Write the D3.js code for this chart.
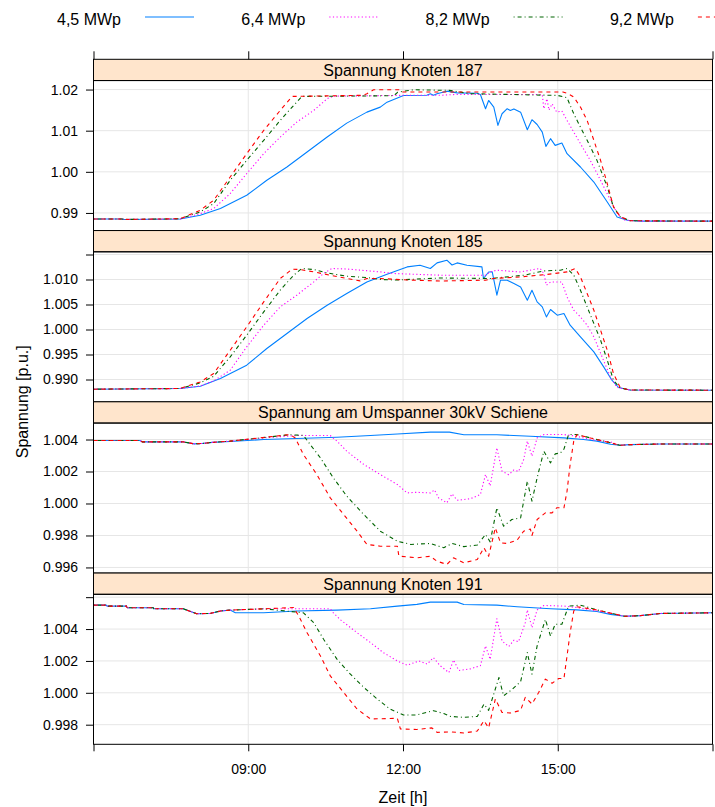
<!DOCTYPE html>
<html><head><meta charset="utf-8">
<script src="https://cdn.jsdelivr.net/npm/d3@7"></script>
<style>
body{margin:0;background:#fff}
text{font-family:"Liberation Sans",Arial,Helvetica,sans-serif;fill:#000}
</style>
</head><body>
<svg id="chart" width="715" height="807"></svg>
<script>
// ---------------- DATA ----------------
const seriesNames = ["4,5 MWp", "6,4 MWp", "8,2 MWp", "9,2 MWp"];
const panelTitles = ["Spannung Knoten 187", "Spannung Knoten 185", "Spannung am Umspanner 30kV Schiene", "Spannung Knoten 191"];
const xTicks = [6, 9, 12, 15, 18];
const xTickLabels = ["", "09:00", "12:00", "15:00", ""];
const xTitle = "Zeit [h]";
const yTitle = "Spannung [p.u.]";

// y ticks per panel (value, label)
const yTicks187 = [[0.99, "0.99"], [1.00, "1.00"], [1.01, "1.01"], [1.02, "1.02"]];
const yTicks185 = [[0.990, "0.990"], [0.995, "0.995"], [1.000, "1.000"], [1.005, "1.005"], [1.010, "1.010"], [1.015, ""]];
const yTicksUmsp = [[0.996, "0.996"], [0.998, "0.998"], [1.000, "1.000"], [1.002, "1.002"], [1.004, "1.004"]];
const yTicks191 = [[0.998, "0.998"], [1.000, "1.000"], [1.002, "1.002"], [1.004, "1.004"], [1.006, ""]];
const yLimits187 = [0.98572, 1.02219];
const yLimits185 = [0.98554, 1.01554];
const yLimitsUmsp = [0.99565, 1.00503];
const yLimits191 = [0.99677, 1.00618];

// time [h], voltage [p.u.]
const k187_45 = [[6,0.98852],[6.55,0.98852],[6.6,0.98842],[7.68,0.98852],[8.07,0.98944],[8.46,0.99107],[8.97,0.99430],[9.36,0.99794],[9.75,1.00117],[10.14,1.00481],[10.53,1.00845],[10.91,1.01184],[11.30,1.01451],[11.56,1.01573],[11.69,1.01694],[12.01,1.01857],[12.46,1.0186],[12.53,1.01898],[12.59,1.0186],[12.66,1.0190],[12.85,1.01961],[13.05,1.0192],[13.44,1.0191],[13.50,1.0188],[13.60,1.01534],[13.66,1.01735],[13.76,1.01573],[13.84,1.01129],[13.92,1.01412],[14.02,1.01534],[14.08,1.0149],[14.15,1.0153],[14.28,1.01451],[14.41,1.01024],[14.50,1.01267],[14.60,1.0115],[14.70,1.00966],[14.77,1.00619],[14.86,1.00806],[14.95,1.00643],[15.08,1.00699],[15.18,1.00442],[15.44,1.00117],[15.70,0.99752],[15.96,0.99267],[16.15,0.98903],[16.35,0.98823],[16.6,0.98800],[18,0.98800]];
const k187_64 = [[6,0.98852],[6.55,0.98852],[6.6,0.98842],[7.68,0.98855],[8.07,0.98985],[8.33,0.99107],[8.65,0.99471],[8.97,0.99956],[9.30,1.00442],[9.62,1.00845],[9.94,1.01209],[10.27,1.01493],[10.53,1.01777],[10.65,1.0184],[12.0,1.0186],[12.72,1.0186],[13.0,1.0188],[14.70,1.0188],[14.73,1.01534],[14.79,1.01777],[14.83,1.0150],[14.89,1.01655],[14.98,1.0145],[15.08,1.0148],[15.18,1.0125],[15.31,1.00966],[15.44,1.00684],[15.63,1.00279],[15.83,0.99794],[16.02,0.99308],[16.15,0.9900],[16.28,0.9883],[16.6,0.9880],[18,0.9880]];
const k187_82 = [[6,0.98852],[6.55,0.98852],[6.6,0.98842],[7.68,0.98858],[8.07,0.99024],[8.33,0.99228],[8.65,0.99794],[8.97,1.00279],[9.30,1.00765],[9.62,1.0125],[9.88,1.01614],[10.04,1.01833],[11.82,1.0185],[11.9,1.01937],[12.2,1.01995],[12.9,1.0198],[13.3,1.0190],[15.0,1.01857],[15.18,1.0180],[15.31,1.01412],[15.44,1.01087],[15.57,1.00765],[15.76,1.00279],[15.96,0.99631],[16.08,0.99146],[16.21,0.9891],[16.4,0.9881],[18,0.9880]];
const k187_92 = [[6,0.98852],[6.55,0.98852],[6.6,0.98842],[7.68,0.9886],[8.07,0.99066],[8.33,0.99308],[8.65,0.99874],[8.97,1.00442],[9.30,1.01007],[9.62,1.01493],[9.85,1.01833],[11.23,1.0186],[11.30,1.0190],[11.43,1.01995],[11.95,1.01995],[12.0,1.0194],[15.1,1.0194],[15.2,1.0190],[15.31,1.0182],[15.44,1.01573],[15.57,1.0125],[15.70,1.00765],[15.83,1.00279],[15.96,0.99713],[16.08,0.9915],[16.21,0.9891],[16.4,0.9881],[18,0.9880]];

const k185_45 = [[6,0.98806],[7.68,0.9882],[8.07,0.98866],[8.46,0.9902],[8.97,0.99286],[9.36,0.9962],[9.75,0.9992],[10.14,1.0022],[10.53,1.00486],[10.91,1.0072],[11.30,1.00952],[11.69,1.01106],[12.08,1.01252],[12.33,1.01286],[12.53,1.0122],[12.66,1.01332],[12.85,1.01386],[12.95,1.0129],[13.05,1.01332],[13.24,1.01286],[13.53,1.01252],[13.56,1.0102],[13.66,1.0115],[13.73,1.01152],[13.82,1.00686],[13.89,1.00986],[14.02,1.00986],[14.15,1.0092],[14.28,1.00852],[14.41,1.00586],[14.50,1.00786],[14.60,1.00552],[14.70,1.00452],[14.78,1.00252],[14.86,1.004],[14.99,1.00286],[15.12,1.0032],[15.24,1.00086],[15.44,0.99852],[15.70,0.99552],[15.89,0.99252],[16.05,0.98986],[16.18,0.9884],[16.4,0.9879],[18,0.98786]];
const k185_64 = [[6,0.98806],[7.68,0.9882],[8.07,0.9887],[8.33,0.98972],[8.65,0.99186],[8.97,0.99652],[9.30,1.00086],[9.62,1.00452],[9.94,1.00686],[10.27,1.00952],[10.46,1.0112],[10.62,1.0122],[10.91,1.0121],[11.56,1.01152],[11.82,1.0112],[12.72,1.01086],[13.6,1.01086],[13.69,1.0115],[13.82,1.01186],[14.28,1.0115],[14.53,1.0120],[14.66,1.0122],[14.73,1.0112],[14.78,1.00886],[14.86,1.0095],[15.08,1.0095],[15.18,1.00652],[15.31,1.00386],[15.44,1.00252],[15.57,1.00086],[15.70,0.99852],[15.86,0.99452],[16.02,0.99052],[16.15,0.9884],[16.4,0.9879],[18,0.98786]];
const k185_82 = [[6,0.98806],[7.68,0.9882],[8.07,0.98932],[8.33,0.99066],[8.65,0.99452],[8.97,0.99886],[9.30,1.00352],[9.62,1.00786],[9.88,1.01086],[10.04,1.0122],[10.27,1.0120],[10.53,1.01132],[10.91,1.01066],[11.30,1.0104],[11.56,1.0100],[11.88,1.0099],[12.72,1.0103],[13.7,1.0102],[14.35,1.01086],[14.73,1.01172],[15.05,1.01186],[15.18,1.0122],[15.31,1.0109],[15.44,1.00786],[15.57,1.00452],[15.70,1.0012],[15.83,0.99786],[15.96,0.99386],[16.08,0.98986],[16.21,0.9883],[16.4,0.9879],[18,0.98786]];
const k185_92 = [[6,0.98806],[7.68,0.9882],[8.07,0.98952],[8.33,0.9912],[8.65,0.99586],[8.97,1.00052],[9.30,1.00552],[9.62,1.0102],[9.85,1.01206],[10.0,1.0120],[10.27,1.01152],[10.59,1.01086],[10.91,1.0102],[11.17,1.00972],[11.30,1.0102],[11.56,1.0102],[12.08,1.0099],[12.72,1.0097],[13.6,1.00986],[13.75,1.0102],[14.28,1.01052],[14.78,1.0110],[15.18,1.01152],[15.34,1.0122],[15.44,1.0105],[15.57,1.0072],[15.70,1.00386],[15.83,0.99986],[15.96,0.99586],[16.08,0.9912],[16.21,0.9884],[16.4,0.9879],[18,0.98786]];

const umspMorning = [[6,1.00394],[6.9,1.00394],[6.95,1.00385],[7.75,1.00385],[7.95,1.00373],[8.1,1.00375],[8.3,1.00382]];
const umspEvening = [[16.2,1.00364],[16.4,1.00368],[17.0,1.00372],[18,1.00372]];
const umsp_45 = [[8.65,1.00388],[9.30,1.0040],[9.94,1.00406],[10.72,1.00414],[11.37,1.00425],[11.89,1.00435],[12.53,1.00446],[12.9,1.00446],[13.18,1.0043],[13.82,1.0043],[14.47,1.0042],[15.12,1.0041],[15.50,1.0040],[15.76,1.0039],[16.02,1.0037]];
const umsp_64 = [[8.65,1.0039],[9.30,1.0041],[9.94,1.00425],[10.59,1.00425],[10.72,1.0039],[10.91,1.00327],[11.24,1.00244],[11.56,1.00181],[11.89,1.00119],[12.08,1.00066],[12.27,1.0007],[12.53,1.00066],[12.61,1.00085],[12.69,1.00035],[12.85,1.00004],[12.95,1.0006],[13.05,1.0002],[13.31,1.0003],[13.50,1.00056],[13.60,1.00181],[13.69,1.0011],[13.82,1.00348],[13.92,1.00202],[14.05,1.0018],[14.15,1.0021],[14.24,1.002],[14.34,1.00275],[14.41,1.0039],[14.50,1.00296],[14.60,1.0041],[14.73,1.00431],[15.12,1.00431],[15.37,1.0042],[15.63,1.004],[16.02,1.00385]];
const umsp_82 = [[8.65,1.0039],[9.81,1.0043],[10.07,1.00426],[10.20,1.00369],[10.40,1.00285],[10.65,1.0016],[10.91,1.00046],[11.24,0.99931],[11.56,0.99827],[11.89,0.99764],[12.15,0.99744],[12.53,0.9975],[12.79,0.99723],[12.95,0.9975],[13.18,0.9973],[13.44,0.9974],[13.60,0.99806],[13.69,0.9976],[13.82,0.99973],[13.95,0.99858],[14.11,0.999],[14.28,0.9991],[14.41,1.00139],[14.50,1.00014],[14.60,1.0016],[14.73,1.00327],[14.86,1.00254],[14.95,1.0031],[15.05,1.00316],[15.12,1.0034],[15.21,1.00431],[15.37,1.00431],[15.76,1.004],[16.02,1.0038]];
const umsp_92 = [[8.65,1.0039],[9.81,1.00431],[9.91,1.0041],[10.07,1.00306],[10.33,1.00181],[10.59,1.00035],[10.85,0.99931],[11.11,0.99827],[11.30,0.99744],[11.56,0.99733],[11.89,0.99733],[11.92,0.99671],[12.27,0.9966],[12.53,0.9967],[12.66,0.99639],[12.85,0.99619],[12.98,0.9966],[13.18,0.99629],[13.44,0.9965],[13.57,0.99723],[13.66,0.9967],[13.79,0.99848],[13.89,0.99754],[14.02,0.9975],[14.21,0.9977],[14.34,0.99827],[14.47,0.9984],[14.50,0.998],[14.60,0.999],[14.76,0.99941],[14.89,0.99941],[14.98,0.99973],[15.12,0.99973],[15.18,1.00077],[15.24,1.00244],[15.31,1.0039],[15.37,1.0043],[15.76,1.004],[16.02,1.0038]];

const k191Morning = [[6,1.0055],[6.25,1.0055],[6.26,1.00544],[6.64,1.00544],[6.65,1.00534],[7.16,1.00534],[7.17,1.00527],[7.74,1.00527],[8.0,1.00496],[8.26,1.00498],[8.46,1.00513],[8.65,1.00519]];
const k191Evening = [[16.3,1.0048],[16.6,1.00484],[17.0,1.00498],[18,1.00502]];
const k191_45 = [[8.75,1.00502],[9.30,1.00502],[9.94,1.00513],[10.72,1.00519],[11.37,1.00527],[11.89,1.00544],[12.27,1.00555],[12.53,1.00569],[13.05,1.00569],[13.18,1.00554],[13.82,1.0055],[14.21,1.0054],[14.86,1.00527],[15.37,1.0052],[15.76,1.0051],[16.02,1.00492]];
const k191_64 = [[9.30,1.00527],[10.59,1.00527],[10.65,1.00502],[10.78,1.0046],[11.11,1.00377],[11.37,1.00315],[11.62,1.00252],[11.89,1.002],[12.08,1.00173],[12.31,1.002],[12.47,1.0018],[12.59,1.00221],[12.72,1.0017],[12.89,1.00127],[12.98,1.00206],[13.08,1.0014],[13.30,1.0015],[13.50,1.0017],[13.60,1.00294],[13.69,1.0021],[13.82,1.00465],[13.92,1.00325],[14.05,1.0029],[14.15,1.0033],[14.24,1.0032],[14.37,1.0044],[14.41,1.0052],[14.50,1.00409],[14.60,1.0052],[14.73,1.00548],[15.12,1.00544],[15.37,1.00535],[16.02,1.005]];
const k191_82 = [[9.30,1.00527],[10.07,1.00502],[10.27,1.0044],[10.46,1.00336],[10.72,1.00211],[10.98,1.00117],[11.24,1.00034],[11.50,0.99961],[11.75,0.99898],[12.01,0.99861],[12.27,0.99861],[12.59,0.99888],[12.79,0.9987],[12.92,0.99852],[13.18,0.99846],[13.44,0.99852],[13.57,0.99929],[13.66,0.9989],[13.86,1.00096],[13.95,0.99981],[14.11,1.0002],[14.28,1.0007],[14.41,1.00252],[14.50,1.00117],[14.60,1.00294],[14.76,1.0046],[14.86,1.00356],[14.95,1.0043],[15.08,1.0043],[15.21,1.00544],[15.44,1.0055],[15.76,1.0052],[16.02,1.005]];
const k191_92 = [[9.30,1.00527],[9.88,1.00535],[9.98,1.00481],[10.14,1.00377],[10.40,1.00231],[10.59,1.00106],[10.85,1.00002],[11.11,0.99898],[11.37,0.99836],[11.89,0.9984],[11.95,0.99773],[12.27,0.9977],[12.56,0.9978],[12.66,0.99752],[12.92,0.99755],[13.18,0.99748],[13.44,0.9976],[13.57,0.99825],[13.66,0.9978],[13.79,0.99961],[13.92,0.99877],[14.08,0.99873],[14.28,0.9989],[14.37,0.99971],[14.50,0.9993],[14.63,1.00002],[14.76,1.00086],[14.89,1.0006],[15.02,1.0009],[15.12,1.0009],[15.18,1.00231],[15.24,1.00377],[15.31,1.00513],[15.37,1.0054],[15.76,1.0052],[16.02,1.005]];

// ---------------- PANELS ----------------
const panels = [
  {title: panelTitles[0], limits: yLimits187, ticks: yTicks187, series: [k187_45, k187_64, k187_82, k187_92]},
  {title: panelTitles[1], limits: yLimits185, ticks: yTicks185, series: [k185_45, k185_64, k185_82, k185_92]},
  {title: panelTitles[2], limits: yLimitsUmsp, ticks: yTicksUmsp, series: [
    [...umspMorning, ...umsp_45, ...umspEvening], [...umspMorning, ...umsp_64, ...umspEvening],
    [...umspMorning, ...umsp_82, ...umspEvening], [...umspMorning, ...umsp_92, ...umspEvening]]},
  {title: panelTitles[3], limits: yLimits191, ticks: yTicks191, series: [
    [...k191Morning, ...k191_45, ...k191Evening], [...k191Morning, ...k191_64, ...k191Evening],
    [...k191Morning, ...k191_82, ...k191Evening], [...k191Morning, ...k191_92, ...k191Evening]]}
];

// ---------------- STYLE ----------------
const colors = ["#0080ff", "#ff00ff", "#006400", "#ff0000"];
const dashes = [null, "1.2,2.4", "1,3,4,3", "4,4"];
const gridColor = "#e6e6e6";
const stripFill = "#ffe5cc";

const W = 715, H = 807;
const plotL = 93.5, plotR = 712.5;
const top0 = 59.3, panelH = 171.25, stripH = 21.25;

const svg = d3.select("#chart");
const x = d3.scaleLinear().domain([xTicks[0], xTicks[xTicks.length - 1]]).range([plotL, plotR]);

// legend
const legX0 = 57, legStep = 184.3;
seriesNames.forEach((nm, i) => {
  const lx = legX0 + i * legStep;
  svg.append("text").attr("x", lx).attr("y", 25).style("font-size", "16px").text(nm);
  svg.append("line").attr("x1", lx + 88).attr("x2", lx + 137).attr("y1", 17).attr("y2", 17)
    .attr("stroke", colors[i]).attr("stroke-width", 1.1)
    .attr("stroke-dasharray", dashes[i]);
});

const defs = svg.append("defs");

panels.forEach((p, pi) => {
  const sTop = top0 + pi * panelH;
  const pTop = sTop + stripH;
  const pBot = sTop + panelH;
  const y = d3.scaleLinear().domain(p.limits).range([pBot, pTop]);
  const g = svg.append("g");

  // grid
  p.ticks.forEach(t => {
    g.append("line").attr("x1", plotL).attr("x2", plotR).attr("y1", y(t[0])).attr("y2", y(t[0]))
      .attr("stroke", gridColor).attr("stroke-width", 1);
  });
  xTicks.slice(1, -1).forEach(t => {
    g.append("line").attr("x1", x(t)).attr("x2", x(t)).attr("y1", pTop).attr("y2", pBot)
      .attr("stroke", gridColor).attr("stroke-width", 1);
  });

  // clip
  defs.append("clipPath").attr("id", "clip" + pi).append("rect")
    .attr("x", plotL).attr("y", pTop).attr("width", plotR - plotL).attr("height", pBot - pTop);

  const line = d3.line().x(d => x(d[0])).y(d => y(d[1]));
  const lg = g.append("g").attr("clip-path", `url(#clip${pi})`);
  p.series.forEach((s, si) => {
    lg.append("path").attr("d", line(s)).attr("fill", "none")
      .attr("stroke", colors[si]).attr("stroke-width", 1.1)
      .attr("stroke-dasharray", dashes[si]).attr("stroke-linejoin", "round");
  });

  // y axis
  const ax = d3.axisLeft(y).tickValues(p.ticks.map(t => t[0]))
    .tickFormat((d, i) => p.ticks[i][1]).tickSize(7.5).tickPadding(8);
  const axg = svg.append("g").attr("transform", `translate(${plotL},0)`).call(ax);
  axg.select(".domain").remove();
  axg.selectAll(".tick line").attr("stroke", "#000");
  axg.selectAll(".tick text").style("font-size", "14px").style("font-family", '"Liberation Sans",Arial,sans-serif').attr("fill", "#000");

  // strip
  svg.append("rect").attr("x", plotL).attr("y", sTop).attr("width", plotR - plotL).attr("height", stripH)
    .attr("fill", stripFill).attr("stroke", "#000").attr("stroke-width", 1);
  svg.append("text").attr("x", (plotL + plotR) / 2).attr("y", sTop + 16.5).attr("text-anchor", "middle")
    .style("font-size", "16px").text(p.title);

  // panel border
  svg.append("rect").attr("x", plotL).attr("y", pTop).attr("width", plotR - plotL).attr("height", pBot - pTop)
    .attr("fill", "none").attr("stroke", "#000").attr("stroke-width", 1);
});

// bottom axis
const bottomY = top0 + 4 * panelH;
const bax = d3.axisBottom(x).tickValues(xTicks).tickFormat((d, i) => xTickLabels[i]).tickSize(7).tickPadding(13);
const bg = svg.append("g").attr("transform", `translate(0,${bottomY})`).call(bax);
bg.select(".domain").remove();
bg.selectAll(".tick line").attr("stroke", "#000");
bg.selectAll(".tick text").style("font-size", "14px").style("font-family", '"Liberation Sans",Arial,sans-serif').attr("fill", "#000");

// top axis (ticks only)
const tax = d3.axisTop(x).tickValues(xTicks).tickFormat("").tickSize(8);
const tg = svg.append("g").attr("transform", `translate(0,${top0})`).call(tax);
tg.select(".domain").remove();
tg.selectAll(".tick line").attr("stroke", "#000");

// axis titles
svg.append("text").attr("x", (plotL + plotR) / 2).attr("y", 803).attr("text-anchor", "middle")
  .style("font-size", "16px").text(xTitle);
svg.append("text").attr("transform", `translate(28,${top0 + 2 * panelH}) rotate(-90)`).attr("text-anchor", "middle")
  .style("font-size", "16px").text(yTitle);
</script>
</body></html>
